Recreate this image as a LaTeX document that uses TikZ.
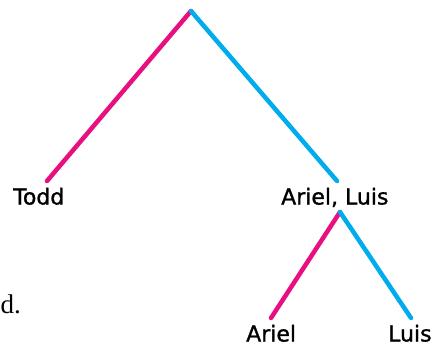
\documentclass[tikz,border=0pt]{standalone}
\usepackage{fontspec}
\setmainfont{DejaVu Sans}
\newfontfamily\lblfont{DejaVu Sans}[FakeBold=1.2]
\newfontfamily\serifcap{Liberation Serif}
\definecolor{pinkline}{RGB}{232,16,128}
\definecolor{blueline}{RGB}{0,172,236}
\begin{document}
\begin{tikzpicture}[x=1pt,y=-1pt,
  branch/.style={line width=4.5pt,line cap=round},
  leftbr/.style={branch,draw=pinkline},
  rightbr/.style={branch,draw=blueline},
  lbl/.style={inner sep=0pt,anchor=base west,font=\lblfont\fontsize{22}{24}\selectfont}]
\useasboundingbox (0,0) rectangle (435,345);
\clip (0,0) rectangle (435,345);
\coordinate (root) at (191,11);
\coordinate (toddend) at (47,181);
\coordinate (alend) at (337,181);
\coordinate (alroot) at (340,212);
\coordinate (arielend) at (271,318);
\coordinate (luisend) at (411,318);
\draw[leftbr] (root) -- (toddend);
\draw[rightbr] (root) -- (alend);
\draw[leftbr] (alroot) -- (arielend);
\draw[rightbr] (alroot) -- (luisend);
\node[lbl] (todd) at (13,204.5) {Todd};
\node[lbl] (al) at (281,204.5) {Ariel, Luis};
\node[lbl] (ariel) at (246,341.5) {Ariel};
\node[lbl] (luis) at (388,341.5) {Luis};
\node[inner sep=0pt,anchor=base east,font=\serifcap\fontsize{27}{30}\selectfont] (dlabel) at (21,313) {d.};
\end{tikzpicture}
\end{document}
